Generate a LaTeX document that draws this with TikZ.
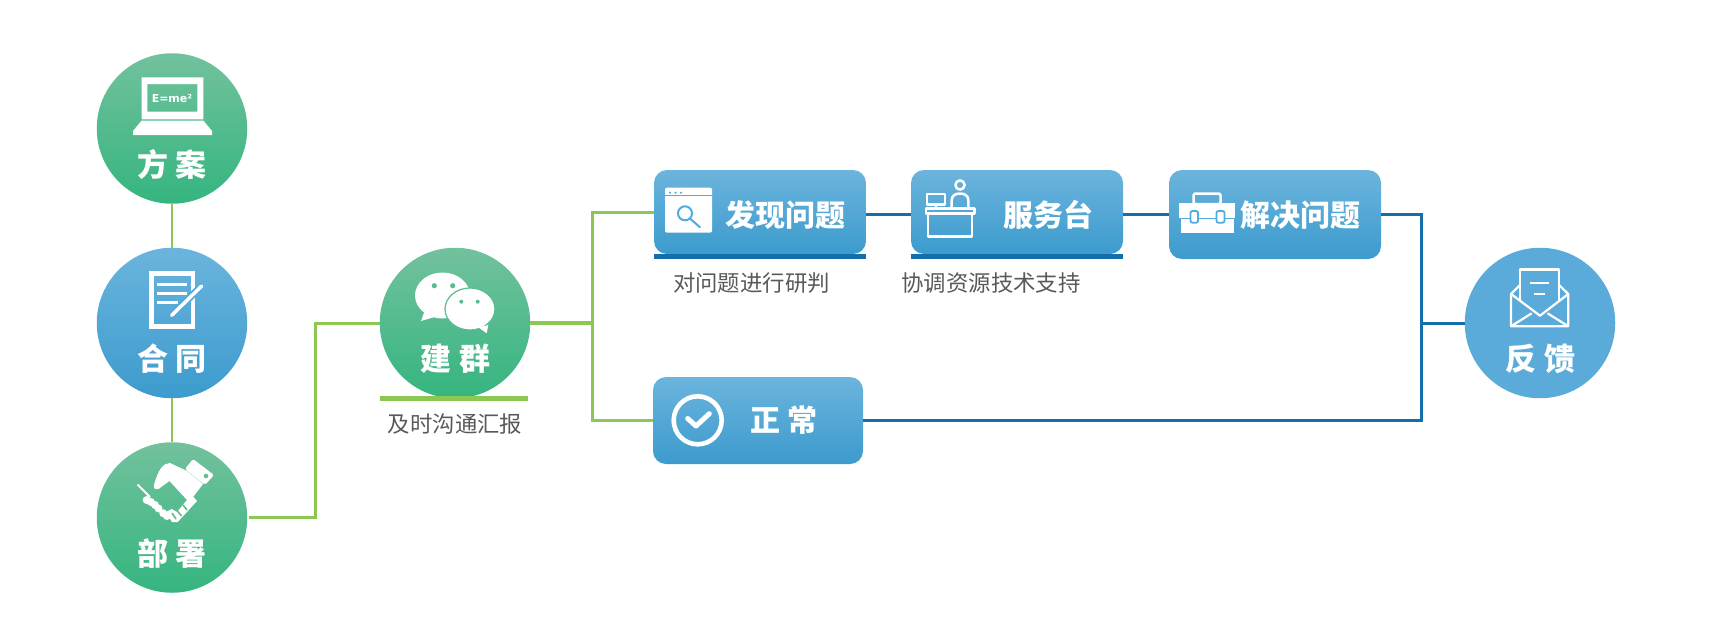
\documentclass[tikz,border=0pt]{standalone}
\usepackage{fontspec}
\setmainfont{Noto Sans CJK SC}
\newfontfamily\iconfont{DejaVu Sans}
\usepackage{tikz}
\usetikzlibrary{positioning}
\definecolor{linegreen}{HTML}{8CC653}
\definecolor{lineblue}{HTML}{146EAA}
\definecolor{greentop}{HTML}{72C19D}
\definecolor{greenbot}{HTML}{35B57F}
\definecolor{greenmid}{HTML}{5BBC91}
\definecolor{bluetop}{HTML}{6BB4DD}
\definecolor{bluemid}{HTML}{50ABDF}
\definecolor{bluebot}{HTML}{3C9BCD}
\definecolor{blueflat}{HTML}{5AABD9}
\definecolor{subgray}{HTML}{595959}

\begin{document}
\begin{tikzpicture}[
        x=1pt, y=-1pt,
        greenball/.style={circle, inner sep=0pt, minimum size=150.5pt, top color=greentop, bottom color=greenbot},
        blueball/.style={circle, inner sep=0pt, minimum size=150.5pt, top color=bluetop, middle color=bluemid, bottom color=bluebot},
        flatball/.style={circle, inner sep=0pt, minimum size=150.5pt, fill=blueflat},
        bluebox/.style={rectangle, rounded corners=13pt, inner sep=0pt, minimum width=212pt, top color=bluetop, middle color=bluemid, bottom color=bluebot},
        title/.style={text=white, font=\bfseries\fontsize{30}{30}\selectfont, inner sep=0pt},
        ballname/.style={title, font=\bfseries\fontsize{31}{31}\selectfont},
        subtitle/.style={text=subgray, font=\fontsize{22.4}{22.4}\selectfont, inner sep=0pt},
        greenline/.style={draw=linegreen, line width=3pt},
        blueline/.style={draw=lineblue, line width=3pt},
        iconline/.style={draw=white, line width=2.5pt, line join=round}
      ]
        \useasboundingbox (0,0) rectangle (1711,640);

        \node[greenball] (plan)    at (172,128.5) {};
        \node[blueball]  (contract) [below of=plan, node distance=194.5pt] {};
        \node[greenball] (deploy)  [below of=contract, node distance=194.5pt] {};
        \node[greenball] (group)   at (455,323) {};
        \node[flatball]  (feedback) at (1540,323) {};

        \node[bluebox, minimum height=84pt] (found) at (760,212) {};
        \node[bluebox, minimum height=84pt] (desk)  [right of=found, node distance=257pt] {};
        \node[bluebox, minimum height=89pt] (solve) at (1275,214.5) {};
        \node[bluebox, minimum height=87pt, minimum width=210pt] (normal) at (758,420.5) {};

        \node[ballname] (planname)     [below of=plan, node distance=36pt] {方\hspace{8pt}案};
        \node[ballname] (contractname) [below of=contract, node distance=36pt] {合\hspace{8pt}同};
        \node[ballname] (deployname)   [below of=deploy, node distance=36pt] {部\hspace{8pt}署};
        \node[ballname] (groupname)    [below of=group, node distance=36pt] {建\hspace{8pt}群};
        \node[ballname] (feedbackname) [below of=feedback, node distance=36pt] {反\hspace{8pt}馈};
        \node[title] (foundname)    at (785,215) {发现问题};
        \node[title] (deskname)     at (1048,215) {服务台};
        \node[title] (solvename)    at (1300,215) {解决问题};
        \node[title] (normalname)   at (784,420) {正\hspace{8pt}常};

        \node[subtitle] (groupnote) at (455,424) {及时沟通汇报};
        \node[subtitle] (foundnote) at (751.5,283) {对问题进行研判};
        \node[subtitle] (desknote)  at (991,283) {协调资源技术支持};

        \coordinate (turndeploy) at (315,420);
        \coordinate (splitgroup) at (592,323);
        \coordinate (joinfeed)   at (1421.5,323);

        \draw[greenline, line width=1.8pt] (plan) -- (contract);
        \draw[greenline, line width=1.8pt] (contract) -- (deploy);
        \draw[greenline] ([xshift=2pt]deploy.east) -| (turndeploy) |- (group.west);
        \draw[greenline, line width=3.5pt] (group.east) -- (splitgroup);
        \draw[greenline] (splitgroup) |- (found.west);
        \draw[greenline] (splitgroup) |- (normal.west);
        \draw[greenline, line width=5pt] (group.west |- group.south) -- ([xshift=-2pt]group.east |- group.south);

        \draw[blueline] ([yshift=-2pt]found.east) -- ([yshift=-2pt]desk.west);
        \draw[blueline] ([yshift=-2pt]desk.east) -- ([yshift=-2pt]desk.east -| solve.west);
        \draw[blueline] (solve.east) -| (joinfeed);
        \draw[blueline] (normal.east) -| (joinfeed);
        \draw[blueline] (joinfeed) -- (feedback.west);
        \draw[draw=lineblue, line width=5pt] ([yshift=-2.5pt]found.south west) -- ([yshift=-2.5pt]found.south east);
        \draw[draw=lineblue, line width=5pt] ([yshift=-2.5pt]desk.south west) -- ([yshift=-2.5pt]desk.south east);

        % laptop
        \fill[white, even odd rule] (141.7,77.3) rectangle (203.3,119.3) (147.3,84) rectangle (197.3,111.7);
        \fill[white] (141.7,120.5) -- (203.3,120.5) -- (212,131) -- (212,135) -- (133,135) -- (133,131) -- cycle;
        \node[text=white, font=\iconfont\bfseries\fontsize{11}{11}\selectfont, inner sep=0pt] (formula) at (172,98.5) {E=me²};

        % sheet and pen
        \draw[iconline, line width=4.6pt, line join=miter] (151.6,273.6) rectangle (192.8,326.5);
        \draw[iconline, line width=3pt] (157.3,284.7) -- (187.3,284.7);
        \draw[iconline, line width=3pt] (157.3,293) -- (187.3,293);
        \draw[iconline, line width=3pt] (157.3,302) -- (178,302);
        \draw[draw=bluemid, line width=7pt] (174,313) -- (199,288.5);
        \draw[iconline, line width=3.5pt, line cap=round] (171.7,315.3) -- (201.7,286);

        % handshake
        \fill[white, rounded corners=2pt, even odd rule] (193,459) -- (214,475) -- (205,485) -- (185,469) -- cycle (206,476) circle (2.5pt);
        \fill[white] (154,485) .. controls (158,470) and (163,463) .. (170,463) -- (187,471) -- (203,484) -- (193.3,496.7) -- (197,501) -- (177.7,522) -- (172,522) -- (166,512) -- (171.7,509) -- (177,512) -- (187,500) -- (169.5,481) -- (158.5,489) .. controls (155,490) and (153,488) .. (154,485) -- cycle;
        \draw[draw=greenmid, line width=1.6pt] (183,505) -- (187,510);
        \draw[draw=greenmid, line width=1.6pt] (177.5,511) -- (181.5,516);
        \draw[draw=greenmid, line width=1.6pt] (172,513) -- (176,519);
        \draw[draw=white, line width=1.8pt] (137.5,484.5) -- (150,497);
        \foreach \bx/\by in {146.7/500, 151/502, 155/505, 158.5/508.5, 163.3/513.3, 167/516}
          \fill[white] (\bx,\by) circle (4pt);

        % chat bubbles
        \fill[white] (442.5,295.5) ellipse (27.5pt and 23pt);
        \fill[white] (425,310) -- (421,321) -- (438,316) -- cycle;
        \fill[white, draw=greenmid, line width=1.2pt] (470,309) ellipse (25pt and 21pt);
        \fill[white] (478.3,327.3) -- (486.7,333.3) -- (488.3,325) -- cycle;
        \foreach \bx/\by/\br in {434.3/285.7/2.6, 452.7/285.7/2.6, 461.3/301.7/2, 477.7/301.7/2}
          \fill[greenmid] (\bx,\by) circle (\br pt);

        % browser window and lens
        \fill[white, rounded corners=2pt] (665,187.7) rectangle (712,232.7);
        \draw[draw=bluemid, line width=0.8pt] (665,195.7) -- (712,195.7);
        \foreach \bx in {670,675.5,681}
          \fill[bluemid] (\bx,192.7) circle (1.2pt);
        \draw[draw=bluemid, line width=2pt] (685,213.3) circle (7pt);
        \draw[draw=bluemid, line width=2pt, line cap=round] (690,218.5) -- (700,227.3);

        % service desk
        \draw[iconline] (960,185) circle (4.6pt);
        \draw[iconline] (951.7,208) -- (951.7,200) .. controls (951.7,196) and (955,193.5) .. (960,193.5) .. controls (965,193.5) and (968.3,196) .. (968.3,200) -- (968.3,208);
        \draw[iconline] (927,194) rectangle (945,204.5);
        \draw[iconline] (936,204.5) -- (936,208);
        \draw[iconline] (926,208.5) rectangle (974.5,213.5);
        \draw[iconline] (928,213.5) -- (928,236.5) -- (972,236.5) -- (972,213.5);

        % tool case
        \draw[iconline, rounded corners=2pt] (1193.5,193.5) rectangle (1220.5,204);
        \fill[white] (1179,202.7) rectangle (1235,218);
        \fill[white] (1180.5,219) rectangle (1234,232.7);
        \draw[draw=bluemid, line width=1.3pt] (1179,218.5) -- (1235,218.5);
        \draw[draw=bluemid, fill=white, line width=1.8pt, rounded corners=2pt] (1190.5,211) rectangle (1198,222.7);
        \draw[draw=bluemid, fill=white, line width=1.8pt, rounded corners=2pt] (1216.5,211) rectangle (1224.5,222.7);

        % envelope
        \draw[iconline, line width=2.2pt] (1520,300) -- (1520,269.5) -- (1559,269.5) -- (1559,300);
        \draw[iconline, line width=2.2pt] (1530,283.3) -- (1549.3,283.3);
        \draw[iconline, line width=2.2pt] (1534,293.7) -- (1545,293.7);
        \draw[iconline, line width=2.2pt] (1520,285) -- (1511,294) -- (1511,326.3) -- (1568.3,326.3) -- (1568.3,294) -- (1559,285);
        \draw[iconline, line width=2.2pt] (1511,294) -- (1540,315.7) -- (1568.3,294);
        \draw[iconline, line width=2.2pt] (1511,326.3) -- (1531.7,313.3);
        \draw[iconline, line width=2.2pt] (1568.3,326.3) -- (1547.5,313.3);

        % check mark
        \draw[draw=white, line width=4.6pt] (697.7,420.3) circle (24pt);
        \draw[draw=white, line width=5pt, line cap=round, line join=round] (687.7,418.5) -- (696,426) -- (709.3,413.7);
      \end{tikzpicture}
\end{document}
